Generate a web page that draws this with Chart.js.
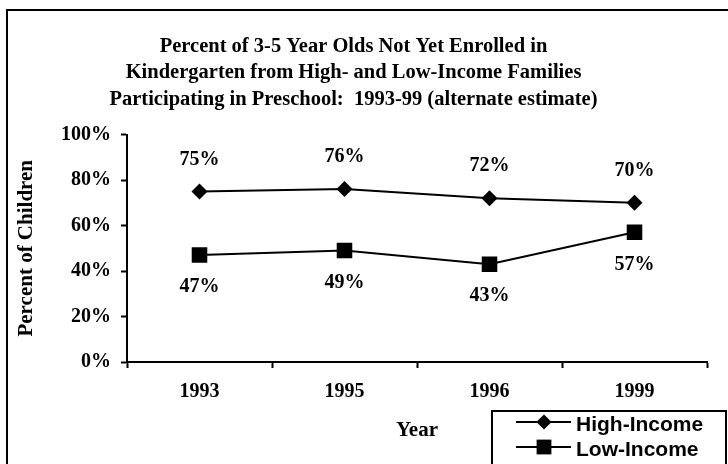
<!DOCTYPE html>
<html>
<head>
<meta charset="utf-8">
<script src="https://cdn.jsdelivr.net/npm/chart.js@4.4.0/dist/chart.umd.min.js"></script>
<style>
    body { margin: 0; width: 728px; height: 464px; overflow: hidden; background: #fff; position: relative; }
    #frame { position: absolute; left: 6px; top: 9px; width: 740px; height: 480px; border: 2px solid #000; }
    #wrap { position: absolute; left: 0; top: 0; width: 728px; height: 464px; }
</style>
</head>
<body>
<div id="frame"></div>
<div id="wrap"><canvas id="chart" width="728" height="464"></canvas></div>
<script>
const years = ['1993', '1995', '1996', '1999'];
const highIncome = [75, 76, 72, 70];
const lowIncome = [47, 49, 43, 57];
const yTicks = [0, 20, 40, 60, 80, 100];
const titleLines = [
    'Percent of 3-5 Year Olds Not Yet Enrolled in',
    'Kindergarten from High- and Low-Income Families',
    'Participating in Preschool:  1993-99 (alternate estimate)'
];

const serif = '"Liberation Serif", "Times New Roman", serif';
const sans = '"Liberation Sans", Arial, sans-serif';

// value labels above (high) / below (low) each point
const valueLabels = {
    id: 'valueLabels',
    afterDatasetsDraw(chart) {
        const ctx = chart.ctx;
        ctx.save();
        ctx.font = 'bold 20px ' + serif;
        ctx.fillStyle = '#000';
        ctx.textAlign = 'center';
        ctx.textBaseline = 'middle';
        chart.data.datasets.forEach((ds, i) => {
            const meta = chart.getDatasetMeta(i);
            meta.data.forEach((pt, j) => {
                const dy = i === 0 ? -32 : 32;
                ctx.fillText(ds.data[j] + '%', pt.x, pt.y + dy);
            });
        });
        ctx.restore();
    }
};

// legend box like the original (line through marker)
const boxLegend = {
    id: 'boxLegend',
    afterDraw(chart) {
        const ctx = chart.ctx;
        const x0 = 492, y0 = 411, w = 234, h = 70;
        ctx.save();
        ctx.lineWidth = 2;
        ctx.strokeStyle = '#000';
        ctx.strokeRect(x0, y0, w, h);
        ctx.font = 'bold 21px ' + sans;
        ctx.fillStyle = '#000';
        ctx.textBaseline = 'middle';
        chart.data.datasets.forEach((ds, i) => {
            const y = y0 + 11 + i * 25;
            ctx.beginPath();
            ctx.moveTo(x0 + 24, y);
            ctx.lineTo(x0 + 79, y);
            ctx.stroke();
            Chart.helpers.drawPoint(ctx, {
                pointStyle: ds.pointStyle,
                radius: ds.pointRadius * 0.95,
                borderWidth: 0
            }, x0 + 52, y);
            ctx.fillText(ds.label, x0 + 84, y + 3);
        });
        ctx.restore();
    }
};

new Chart(document.getElementById('chart'), {
    type: 'line',
    data: {
        labels: years,
        datasets: [{
            label: 'High-Income',
            data: highIncome,
            borderColor: '#000',
            backgroundColor: '#000',
            borderWidth: 2,
            pointStyle: 'rectRot',
            pointRadius: 8,
            pointBorderWidth: 0
        }, {
            label: 'Low-Income',
            data: lowIncome,
            borderColor: '#000',
            backgroundColor: '#000',
            borderWidth: 2,
            pointStyle: 'rect',
            pointRadius: 11,
            pointBorderWidth: 0
        }]
    },
    options: {
        responsive: false,
        animation: false,
        devicePixelRatio: 1,
        layout: { padding: { top: 0, left: 0, right: 21, bottom: 20 } },
        plugins: {
            legend: { display: false },
            tooltip: { enabled: false },
            title: {
                display: true,
                text: titleLines,
                color: '#000',
                font: { family: serif, size: 20.5, weight: 'bold', lineHeight: 1.293 },
                padding: { top: 33, bottom: 22 }
            }
        },
        scales: {
            x: {
                offset: true,
                afterFit(scale) { scale.height = 82; },
                grid: { offset: true, drawOnChartArea: false, drawTicks: true, tickLength: 6, tickWidth: 2, tickColor: '#000' },
                border: { display: true, color: '#000', width: 2 },
                ticks: { color: '#000', padding: 12, font: { family: serif, size: 20, weight: 'bold' } },
                title: {
                    display: true,
                    text: 'Year',
                    color: '#000',
                    font: { family: serif, size: 21, weight: 'bold' },
                    padding: { top: 1, bottom: 1 }
                }
            },
            y: {
                min: 0,
                max: 100,
                afterFit(scale) { scale.width = 127; },
                afterBuildTicks(scale) { scale.ticks = yTicks.map(v => ({ value: v })); },
                grid: { drawOnChartArea: false, drawTicks: true, tickLength: 6, tickWidth: 2, tickColor: '#000' },
                border: { display: true, color: '#000', width: 2 },
                ticks: {
                    color: '#000',
                    padding: 10,
                    font: { family: serif, size: 20, weight: 'bold' },
                    callback: v => v + '%'
                },
                title: {
                    display: true,
                    text: 'Percent of Children',
                    color: '#000',
                    font: { family: serif, size: 21, weight: 'bold' },
                    padding: { top: 14, bottom: 0 }
                }
            }
        }
    },
    plugins: [valueLabels, boxLegend]
});
</script>
</body>
</html>
